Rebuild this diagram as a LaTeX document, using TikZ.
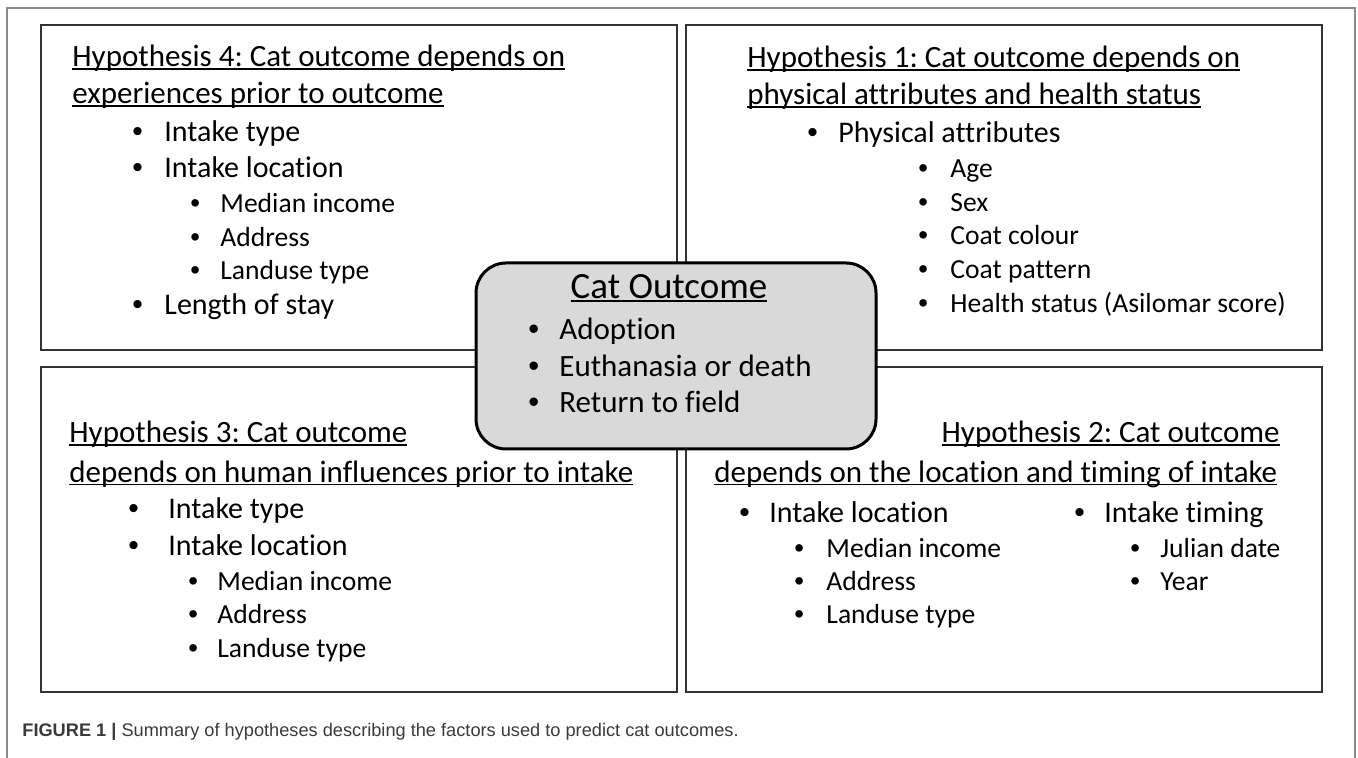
\documentclass[tikz,border=0pt]{standalone}
\usepackage{fontspec}
\setmainfont{Carlito}[Ligatures={NoCommon}]
\newfontfamily\capfont{Liberation Sans}
\newfontfamily\bulfont{Liberation Sans}
\frenchspacing
\newcommand\myul[1]{\setbox0\hbox{#1}\rlap{\rule[-1.6pt]{\wd0}{0.85pt}}\box0}
\newcommand\bl[2]{\llap{\makebox[#1pt][l]{{\bulfont\textbullet}}}#2}
\definecolor{boxline}{HTML}{333333}
\definecolor{centerfill}{HTML}{D9D9D9}
\definecolor{framegray}{HTML}{8C8C8C}
\definecolor{captext}{HTML}{3A3A3A}
\begin{document}
\begin{tikzpicture}[x=0.5pt,y=-0.5pt,
  hbox/.style={draw=boxline, line width=1pt, minimum width=318pt, minimum height=162.5pt, inner sep=0pt},
  ttl/.style={anchor=base west, inner sep=0pt, font=\fontsize{15.5}{18}\selectfont},
  ttlr/.style={anchor=base east, inner sep=0pt, font=\fontsize{15.5}{18}\selectfont},
  la/.style={anchor=base west, inner sep=0pt, font=\fontsize{15}{18}\selectfont},
  lb/.style={anchor=base west, inner sep=0pt, font=\fontsize{13.8}{16}\selectfont},
  cbox/.style={draw=black, line width=1.5pt, fill=centerfill, rounded corners=15pt, minimum width=200pt, minimum height=93pt, inner sep=0pt},
  ctitle/.style={anchor=base, inner sep=0pt, font=\fontsize{18.5}{22}\selectfont},
  citem/.style={anchor=base west, inner sep=0pt, font=\fontsize{15.5}{18}\selectfont},
  captxt/.style={anchor=base west, inner sep=0pt, text=captext, font=\capfont\fontsize{9.1}{11}\selectfont}
]
\useasboundingbox (0,0) rectangle (1358,758);
% outer frame
\coordinate (f1) at (7,758);
\coordinate (f2) at (7,8);
\coordinate (f3) at (1355,8);
\coordinate (f4) at (1355,758);
\draw[framegray, line width=0.8pt] (f1) -- (f2) -- (f3) -- (f4);

% boxes
\node[hbox] (b4) at (359,187.5) {};
\node[hbox] (b1) at (1004,187.5) {};
\node[hbox] (b3) at (359,529.5) {};
\node[hbox] (b2) at (1004,529.5) {};

% Hypothesis 4
\node[ttl] (t4a) at (72,67) {\myul{Hypothesis 4: Cat outcome depends on}};
\node[ttl] (t4b) at (72,104) {\myul{experiences prior to outcome}};
\node[la] (h4i1) at (164,142) {\bl{16}{Intake type}};
\node[la] (h4i2) at (164,178) {\bl{16}{Intake location}};
\node[lb] (h4s1) at (220,213) {\bl{15}{Median income}};
\node[lb] (h4s2) at (220,247) {\bl{15}{Address}};
\node[lb] (h4s3) at (220,280) {\bl{15}{Landuse type}};
\node[la] (h4i3) at (164,315) {\bl{16}{Length of stay}};

% Hypothesis 1
\node[ttl] (t1a) at (747,68) {\myul{Hypothesis 1: Cat outcome depends on}};
\node[ttl] (t1b) at (747,105) {\myul{physical attributes and health status}};
\node[la] (h1i1) at (838,143) {\bl{15.5}{Physical attributes}};
\node[lb] (h1s1) at (950,178) {\bl{16}{Age}};
\node[lb] (h1s2) at (950,212) {\bl{16}{Sex}};
\node[lb] (h1s3) at (950,245) {\bl{16}{Coat colour}};
\node[lb] (h1s4) at (950,279) {\bl{16}{Coat pattern}};
\node[lb] (h1s5) at (950,313) {\bl{16}{Health status (Asilomar score)}};

% Hypothesis 3
\node[ttl] (t3a) at (69,443) {\myul{Hypothesis 3: Cat outcome}};
\node[ttl] (t3b) at (69,482) {\myul{depends on human influences prior to intake}};
\node[la] (h3i1) at (168,518) {\bl{20}{Intake type}};
\node[la] (h3i2) at (168,555) {\bl{20}{Intake location}};
\node[lb] (h3s1) at (217,590) {\bl{14.5}{Median income}};
\node[lb] (h3s2) at (217,623) {\bl{14.5}{Address}};
\node[lb] (h3s3) at (217,657) {\bl{14.5}{Landuse type}};

% Hypothesis 2
\node[ttlr] (t2a) at (1280,443) {\myul{Hypothesis 2: Cat outcome}};
\node[ttl] (t2b) at (714,482) {\myul{depends on the location and timing of intake}};
\node[la] (h2i1) at (769,522) {\bl{15}{Intake location}};
\node[la] (h2i2) at (1104,522) {\bl{15}{Intake timing}};
\node[lb] (h2s1) at (826,557) {\bl{16}{Median income}};
\node[lb] (h2s2) at (826,590) {\bl{16}{Address}};
\node[lb] (h2s3) at (826,623) {\bl{16}{Landuse type}};
\node[lb] (h2s4) at (1160,557) {\bl{15}{Julian date}};
\node[lb] (h2s5) at (1160,590) {\bl{15}{Year}};

% Center
\node[cbox] (co) at (676,356) {};
\node[ctitle] (cot) at (669,299) {\myul{Cat Outcome}};
\node[citem] (co1) at (559,340) {\bl{15.5}{Adoption}};
\node[citem] (co2) at (559,377) {\bl{15.5}{Euthanasia or death}};
\node[citem] (co3) at (559,413) {\bl{15.5}{Return to field}};

% Caption
\node[captxt] (cap) at (22,736) {\textbf{FIGURE 1 |} Summary of hypotheses describing the factors used to predict cat outcomes.};
\end{tikzpicture}
\end{document}
